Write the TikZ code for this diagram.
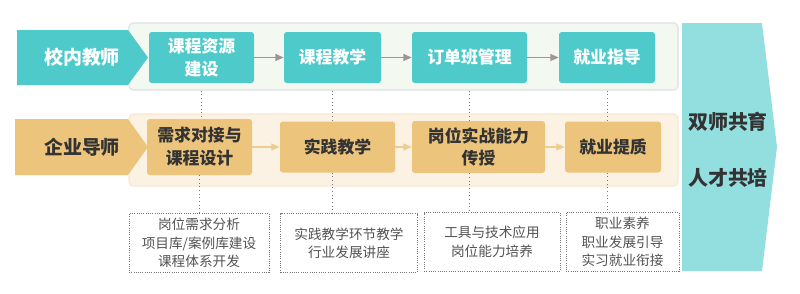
\documentclass[tikz,border=0pt]{standalone}
\usepackage{fontspec}
\setmainfont{Noto Sans CJK SC}
\usepackage{tikz}
\usetikzlibrary{arrows.meta}
\definecolor{teal}{HTML}{4ECACB}
\definecolor{gold}{HTML}{ECC47C}
\definecolor{sky}{HTML}{93DFE0}
\definecolor{greenbg}{HTML}{F3F9F0}
\definecolor{greenline}{HTML}{DCDFE4}
\definecolor{goldbg}{HTML}{FCF2E4}
\definecolor{goldline}{HTML}{F8E8D2}
\definecolor{mauve}{HTML}{A4939C}
\definecolor{ink}{HTML}{333333}
\definecolor{muted}{HTML}{777777}

\begin{document}
\begin{tikzpicture}[
        font=\bfseries,
        panel/.style={rounded corners=3pt,line width=0.8pt,inner sep=0pt},
        tbox/.style={fill=teal,text=white,rounded corners=2pt,align=center,
          font=\bfseries\fontsize{12}{16.3}\selectfont,minimum height=1.275cm},
        gbox/.style={fill=gold,text=ink,rounded corners=2pt,align=center,
          font=\bfseries\fontsize{12}{16.3}\selectfont,minimum height=1.275cm},
        note/.style={draw=muted,densely dotted,line width=0.6pt,text=ink!85,align=center,
          font=\mdseries\fontsize{9.7}{13.1}\selectfont,minimum height=1.475cm},
        role/.style={font=\bfseries\fontsize{13.5}{16}\selectfont},
        tarr/.style={-{Triangle[length=6pt,width=5pt]},draw=mauve,line width=1pt},
        garr/.style={-{Triangle[length=6pt,width=5pt]},draw=gold!85,line width=1pt},
        link/.style={draw=muted,dotted,line width=0.6pt}
      ]
      \useasboundingbox (0,0) rectangle (20,-7.325);

      % panels behind the two rows
      \node[panel,draw=greenline,fill=greenbg,minimum width=13.725cm,minimum height=1.675cm]
        (tpanel) at (10.0875,-1.4125) {};
      \node[panel,draw=goldline,fill=goldbg,minimum width=13.725cm,minimum height=1.8cm]
        (gpanel) at (10.0875,-3.75) {};

      % the two roles
      \fill[teal] (0.425,-0.75) -- (3.2,-0.75) -- (3.7,-1.4375) -- (3.2,-2.125) -- (0.425,-2.125) -- cycle;
      \node[role,text=white] (school) at (2.05,-1.4375) {校内教师};
      \fill[gold] (0.375,-2.975) -- (3.2,-2.975) -- (3.7,-3.675) -- (3.2,-4.375) -- (0.375,-4.375) -- cycle;
      \node[role,text=ink] (firm) at (2.05,-3.675) {企业导师};

      % school row
      \node[tbox,minimum width=2.625cm] (t1) at (5.0375,-1.4375) {课程资源\\建设};
      \node[tbox,minimum width=2.425cm] (t2) at (8.3125,-1.4375) {课程教学};
      \node[tbox,minimum width=2.875cm] (t3) at (11.7375,-1.4375) {订单班管理};
      \node[tbox,minimum width=2.4cm] (t4) at (15.175,-1.4375) {就业指导};
      \draw[tarr] (t1) -- (t2);
      \draw[tarr] (t2) -- (t3);
      \draw[tarr] (t3) -- (t4);

      % company row
      \node[gbox,minimum width=2.625cm,minimum height=1.4cm] (b1) at (4.9875,-3.675) {需求对接与\\课程设计};
      \node[gbox,minimum width=2.875cm] (b2) at (8.4375,-3.675) {实践教学};
      \node[gbox,minimum width=3.325cm,minimum height=1.3cm] (b3) at (11.9625,-3.675) {岗位实战能力\\传授};
      \node[gbox,minimum width=2.4cm] (b4) at (15.325,-3.675) {就业提质};
      \draw[garr] (b1) -- (b2);
      \draw[garr] (b2) -- (b3);
      \draw[garr] (b3) -- (b4);

      % what each step covers
      \node[note,minimum width=3.5cm] (d1) at (4.975,-6.075) {岗位需求分析\\项目库/案例库建设\\课程体系开发};
      \node[note,minimum width=3.425cm] (d2) at (8.725,-6.075) {实践教学环节教学\\行业发展讲座};
      \node[note,minimum width=3.4cm] (d3) at (12.3,-6.05) {工具与技术应用\\岗位能力培养};
      \node[note,minimum width=2.825cm] (d4) at (15.5625,-6.05) {职业素养\\职业发展引导\\实习就业衔接};

      % dotted links between rows
      \draw[link] (t1.south |- tpanel.south) -- (t1.south |- b1.north);
      \draw[link] (t2.south |- tpanel.south) -- (t2.south |- b2.north);
      \draw[link] (t3.south |- tpanel.south) -- (t3.south |- b3.north);
      \draw[link] (t4.south |- tpanel.south) -- (t4.south |- b4.north);
      \draw[link] (b1.south) -- (b1.south |- d1.north);
      \draw[link] (t2.south |- b2.south) -- (t2.south |- d2.north);
      \draw[link] (t3.south |- b3.south) -- (t3.south |- d3.north);
      \draw[link] (t4.south |- b4.south) -- (t4.south |- d4.north);

      % the outcome
      \fill[sky] (17.05,-0.575) -- (19.05,-0.575) -- (19.425,-3.675) -- (19.05,-6.775) -- (17.05,-6.775) -- cycle;
      \node[font=\bfseries\fontsize{14.2}{17}\selectfont,text=ink] (aim1) at (18.2,-3.05) {双师共育};
      \node[font=\bfseries\fontsize{14.2}{17}\selectfont,text=ink] (aim2) at (18.2,-4.45) {人才共培};
    \end{tikzpicture}
\end{document}
